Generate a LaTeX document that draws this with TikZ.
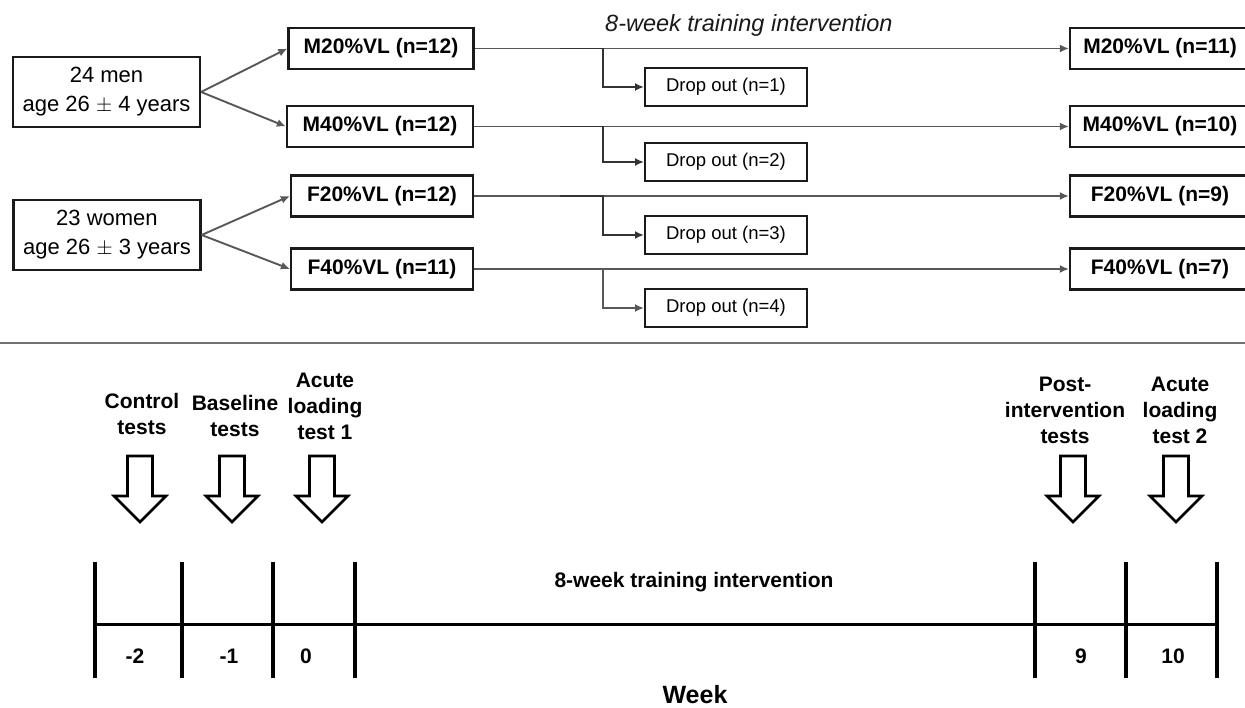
\documentclass[tikz,border=0pt]{standalone}
\usepackage{fontspec}
\setmainfont{Liberation Sans}
\usetikzlibrary{arrows.meta}
\definecolor{conncol}{HTML}{585858}
\definecolor{boxcol}{HTML}{1A1A1A}
\begin{document}
\begin{tikzpicture}[x=1pt,y=-1pt,
  grp/.style={draw=boxcol, line width=2.2pt, inner sep=0pt, minimum height=41pt,
    font=\fontsize{21}{25}\selectfont\bfseries},
  pop/.style={draw=boxcol, line width=2.2pt, inner sep=0pt, minimum width=187pt,
    minimum height=70pt, align=center, font=\fontsize{22}{29}\selectfont},
  drop/.style={draw=boxcol, line width=2pt, inner sep=0pt, minimum width=162pt,
    minimum height=38pt, font=\fontsize{18.5}{22}\selectfont},
  conn/.style={draw=conncol, line width=1.9pt, -{Latex[length=9pt,width=8pt]}},
  tlabel/.style={align=center, inner sep=0pt, font=\fontsize{21}{26}\selectfont\bfseries},
  wk/.style={inner sep=0pt, font=\fontsize{21}{26}\selectfont\bfseries},
  tick/.style={line width=3.2pt, draw=black},
  hollowdown/.pic={
    \draw[line width=2.6pt, line join=miter, fill=white]
      (-12.5,0) -- (12.5,0) -- (12.5,40) -- (26,40) -- (0,66) -- (-26,40) -- (-12.5,40) -- cycle;
  }]
\useasboundingbox (0,0) rectangle (1245,708);
\clip (0,0) rectangle (1245,708);

% ---------- top: groups ----------
\node[pop] (men) at (106.5,92) {24 men\\age 26 $\pm$ 4 years};
\node[pop] (women) at (107,235) {23 women\\age 26 $\pm$ 3 years};

\node[grp, minimum width=185pt] (m20) at (381,48.5) {M20\%VL (n=12)};
\node[grp, minimum width=186pt] (m40) at (380,126.5) {M40\%VL (n=12)};
\node[grp, minimum width=182pt] (f20) at (382,196) {F20\%VL (n=12)};
\node[grp, minimum width=182pt] (f40) at (382,269) {F40\%VL (n=11)};

\node[grp, minimum width=180pt] (m20r) at (1160,48.5) {M20\%VL (n=11)};
\node[grp, minimum width=180pt] (m40r) at (1160,126.5) {M40\%VL (n=10)};
\node[grp, minimum width=180pt] (f20r) at (1160,196) {F20\%VL (n=9)};
\node[grp, minimum width=180pt] (f40r) at (1160,269) {F40\%VL (n=7)};

\node[drop] (d1) at (726,87) {Drop out (n=1)};
\node[drop] (d2) at (726,162) {Drop out (n=2)};
\node[drop] (d3) at (726,235) {Drop out (n=3)};
\node[drop] (d4) at (726,308) {Drop out (n=4)};

\node[anchor=west, inner sep=0pt, font=\fontsize{23.5}{28}\selectfont\itshape, text=black!90]
  (title) at (605,25) {8-week training intervention};

\draw[conn] (men.east) -- (m20.west);
\draw[conn] (men.east) -- (m40.west);
\draw[conn] (women.east) -- (f20.west);
\draw[conn] (women.east) -- (f40.west);

\draw[conn] (m20.east) -- (m20r.west);
\draw[conn] (m40.east) -- (m40r.west);
\draw[conn] (f20.east) -- (f20r.west);
\draw[conn] (f40.east) -- (f40r.west);

\coordinate (j1) at (560,48.5);  \coordinate (k1) at (603,48.5);
\coordinate (j2) at (560,126.5); \coordinate (k2) at (603,126.5);
\coordinate (j3) at (560,196);   \coordinate (k3) at (603,196);
\coordinate (k4) at (603,269);

\draw[conn, draw=black!80] (j1) -- (k1) |- (d1.west);
\draw[conn, draw=black!80] (j2) -- (k2) |- (d2.west);
\draw[conn, draw=black!80] (j3) -- (k3) |- (d3.west);
\draw[conn] (k4) |- (d4.west);

% ---------- separator ----------
\coordinate (sepL) at (0,343);
\coordinate (sepR) at (1245,343);
\draw[line width=2pt, draw=black!55] (sepL) -- (sepR);

% ---------- bottom: timeline ----------
\node[tlabel] (lc) at (142,414) {Control\\tests};
\node[tlabel] (lb) at (235,416) {Baseline\\tests};
\node[tlabel] (la1) at (325,406) {Acute\\loading\\test 1};
\node[tlabel] (lp) at (1065,410) {Post-\\intervention\\tests};
\node[tlabel] (la2) at (1180,410) {Acute\\loading\\test 2};

\pic at (140,456) {hollowdown};
\pic at (232,456) {hollowdown};
\pic at (322,456) {hollowdown};
\pic at (1073,456) {hollowdown};
\pic at (1176,456) {hollowdown};

\coordinate (t0) at (95,624);
\coordinate (t7) at (1217,624);
\draw[line width=3pt] (t0) -- (t7);
\foreach \x in {95,182,273,355,1035,1126,1217}{
  \draw[tick] (\x,562) -- (\x,678);
}

\node[wk] (w1) at (135,656) {-2};
\node[wk] (w2) at (229,656) {-1};
\node[wk] (w3) at (306,656) {0};
\node[wk] (w4) at (1081,656) {9};
\node[wk] (w5) at (1173,656) {10};

\node[wk] (mid) at (694,582) {8-week training intervention};
\node[anchor=base, inner sep=0pt, font=\fontsize{25}{30}\selectfont\bfseries] (week) at (695,703) {Week};
\end{tikzpicture}
\end{document}
